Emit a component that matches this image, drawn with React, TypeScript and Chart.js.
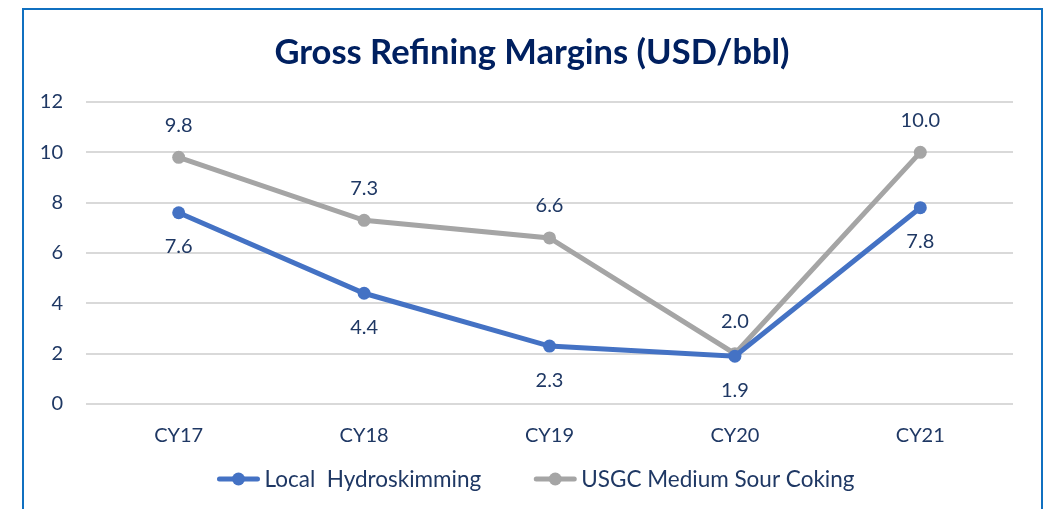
import React, { useEffect, useRef } from "react";
import { Chart, registerables } from "chart.js";

Chart.register(...registerables);

const categories = ["CY17", "CY18", "CY19", "CY20", "CY21"];
const localHydro = [7.6, 4.4, 2.3, 1.9, 7.8];
const usgcCoking = [9.8, 7.3, 6.6, 2.0, 10.0];
const yTicks = [0, 2, 4, 6, 8, 10, 12];
const seriesNames = ["Local  Hydroskimming", "USGC Medium Sour Coking"];
const seriesColors = ["#4472C4", "#A5A5A5"];
const titleText = "Gross Refining Margins (USD/bbl)";
const labelSide = [
  ["below", "below", "below", "below", "below"],
  ["above", "above", "above", "above", "above"],
];

const NAVY = "#1F3864";
const FONT = "Lato";

const titlePlugin = {
  id: "customTitle",
  afterDraw(chart: any) {
    const ctx = chart.ctx;
    ctx.save();
    ctx.font = `bold 34.5px ${FONT}`;
    ctx.fillStyle = "#002060";
    ctx.textAlign = "center";
    ctx.textBaseline = "middle";
    ctx.fillText(titleText, 532, 53);
    ctx.restore();
  },
};

const dataLabelPlugin = {
  id: "dataLabels",
  afterDatasetsDraw(chart: any) {
    const ctx = chart.ctx;
    ctx.save();
    ctx.font = `20px ${FONT}`;
    ctx.fillStyle = NAVY;
    ctx.textAlign = "center";
    ctx.textBaseline = "middle";
    chart.data.datasets.forEach((ds: any, di: number) => {
      const meta = chart.getDatasetMeta(di);
      meta.data.forEach((pt: any, i: number) => {
        const v = ds.data[i] as number;
        const side = labelSide[di][i];
        const dy = side === "above" ? -32 : 34;
        ctx.fillText(v.toFixed(1), pt.x, pt.y + dy);
      });
    });
    ctx.restore();
  },
};

const customLegendPlugin = {
  id: "customLegend",
  afterDraw(chart: any) {
    const ctx = chart.ctx;
    ctx.save();
    ctx.font = `22.5px ${FONT}`;
    const markerW = 42;
    const textGap = 5;
    const itemGap = 53;
    const widths = seriesNames.map((n) => ctx.measureText(n).width);
    const total =
      widths.reduce((a, w) => a + markerW + textGap + w, 0) + itemGap * (seriesNames.length - 1);
    let x = 536 - total / 2;
    const y = 479;
    seriesNames.forEach((name, i) => {
      const color = seriesColors[i];
      ctx.strokeStyle = color;
      ctx.lineWidth = 5;
      ctx.lineCap = "round";
      ctx.beginPath();
      ctx.moveTo(x + 2, y);
      ctx.lineTo(x + markerW - 2, y);
      ctx.stroke();
      ctx.fillStyle = color;
      ctx.beginPath();
      ctx.arc(x + markerW / 2, y, 6.5, 0, Math.PI * 2);
      ctx.fill();
      ctx.fillStyle = NAVY;
      ctx.textAlign = "left";
      ctx.textBaseline = "middle";
      ctx.fillText(name, x + markerW + textGap, y + 1);
      x += markerW + textGap + widths[i] + itemGap;
    });
    ctx.restore();
  },
};

export default function App() {
  const ref = useRef<HTMLCanvasElement>(null);

  useEffect(() => {
    const chart = new Chart(ref.current!, {
      type: "line",
      data: {
        labels: categories,
        datasets: [localHydro, usgcCoking].map((d, i) => ({
          label: seriesNames[i],
          data: d,
          borderColor: seriesColors[i],
          backgroundColor: seriesColors[i],
          borderWidth: 5,
          pointRadius: 6.5,
          pointHoverRadius: 6.5,
          pointBackgroundColor: seriesColors[i],
          pointBorderWidth: 0,
          tension: 0,
          fill: false,
        })),
      },
      options: {
        responsive: false,
        animation: false,
        events: [],
        layout: { padding: { left: 30, right: 33, top: 102, bottom: 65 } },
        plugins: {
          title: { display: false },
          legend: { display: false },
          tooltip: { enabled: false },
        },
        scales: {
          x: {
            offset: true,
            afterFit(scale: any) {
              scale.height = 40;
            },
            grid: { display: false },
            border: { display: false },
            ticks: { color: NAVY, font: { family: FONT, size: 20 }, padding: 12 },
          },
          y: {
            min: 0,
            max: 12,
            afterFit(scale: any) {
              scale.width = 56;
            },
            afterBuildTicks(scale: any) {
              scale.ticks = yTicks.map((v) => ({ value: v }));
            },
            grid: { color: "#D9D9D9", lineWidth: 2, drawTicks: false },
            border: { display: false },
            ticks: {
              color: NAVY,
              font: { family: FONT, size: 20 },
              padding: 23,
            },
          },
        },
      },
      plugins: [dataLabelPlugin, customLegendPlugin, titlePlugin],
    });
    return () => chart.destroy();
  }, []);

  return (
    <div
      style={{
        position: "fixed",
        left: 0,
        top: 0,
        width: 1046,
        height: 509,
        overflow: "hidden",
        background: "#fff",
      }}
    >
      <div
        style={{
          position: "absolute",
          left: 22,
          top: 8,
          width: 1043 - 22 - 4,
          height: 600,
          border: "2px solid #1070C0",
        }}
      />
      <canvas ref={ref} width={1046} height={509} style={{ position: "absolute", left: 0, top: 0 }} />
    </div>
  );
}
